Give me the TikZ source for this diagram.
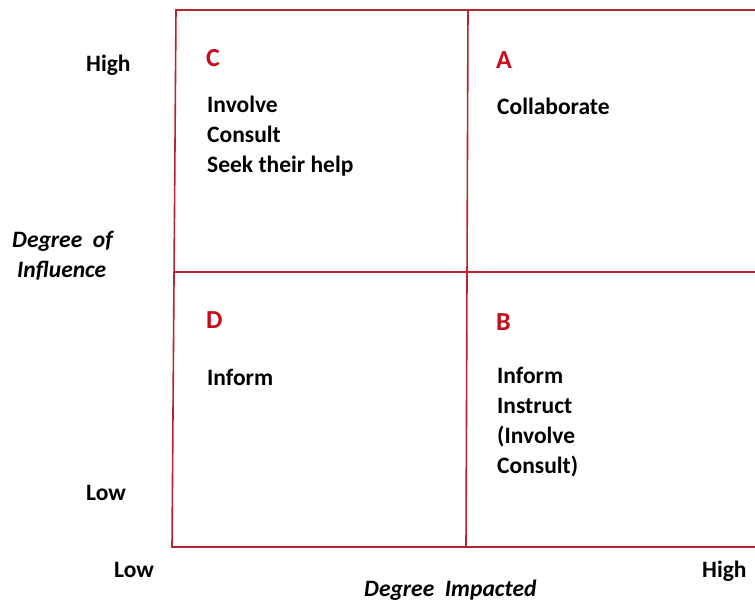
\documentclass[tikz,border=0pt]{standalone}
\usepackage{fontspec}
\setmainfont{Carlito}
\usepackage{tikz}
\usetikzlibrary{positioning}
\definecolor{gridred}{RGB}{185,35,45}
\definecolor{quadred}{RGB}{200,10,25}

\tikzset{
    txt/.style={font=\bfseries\fontsize{23.5}{30}\selectfont, anchor=base west, inner sep=0pt},
    axis/.style={font=\bfseries\itshape\fontsize{23.5}{30}\selectfont, anchor=base west, inner sep=0pt},
    quad/.style={txt, text=quadred, font=\bfseries\fontsize{26}{30}\selectfont},
    gridline/.style={gridred, line width=1.6pt}
}

\begin{document}
\begin{tikzpicture}[x=1pt, y=-1pt]
    \useasboundingbox (0,0) rectangle (755,600);

    % Grid corners
    \coordinate (tl) at (176,10);
    \coordinate (tm) at (468,10);
    \coordinate (tr) at (755,10);
    \coordinate (ml) at (174,272);
    \coordinate (mr) at (755,272);
    \coordinate (bl) at (172,547);
    \coordinate (bm) at (466,547);
    \coordinate (br) at (755,547);

    \draw[gridline] (tr) -- (tl) -- (bl) -- (br);
    \draw[gridline] (ml) -- (mr);
    \draw[gridline] (tm) -- (bm);

    % Quadrant C
    \node[quad] (qc) at (206,66) {C};
    \node[txt] (c1) at (207,112) {Involve};
    \node[txt] (c2) at (207,142) {Consult};
    \node[txt] (c3) at (207,172) {Seek their help};

    % Quadrant A
    \node[quad] (qa) at (496,68) {A};
    \node[txt] (a1) at (497,114) {Collaborate};

    % Quadrant D
    \node[quad] (qd) at (206,328) {D};
    \node[txt] (d1) at (207,385) {Inform};

    % Quadrant B
    \node[quad] (qb) at (496,330) {B};
    \node[txt] (b1) at (497,383) {Inform};
    \node[txt] (b2) at (497,413) {Instruct};
    \node[txt] (b3) at (497,443) {(Involve};
    \node[txt] (b4) at (497,473) {Consult)};

    % Axis labels
    \node[txt] (yhigh) at (86,71) {High};
    \node[txt] (ylow) at (86,500) {Low};
    \node[axis] (ytitle) at (12,247) {Degree\ \ of};
    \node[axis] (ytitle2) at (17,277) {Influence};
    \node[txt] (xlow) at (114,577) {Low};
    \node[txt] (xhigh) at (702,577) {High};
    \node[axis] (xtitle) at (364,596) {Degree\ \ Impacted};
\end{tikzpicture}
\end{document}
